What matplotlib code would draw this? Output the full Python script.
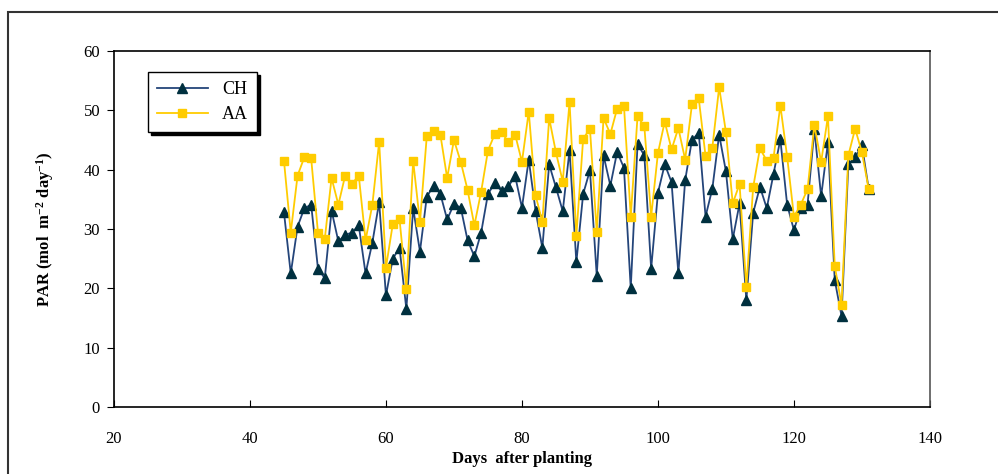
import numpy as np
import matplotlib
matplotlib.use('Agg')
import matplotlib.pyplot as plt
from matplotlib.patches import Rectangle

# daily PAR, days 45..131 after planting
days = np.arange(45, 132)
ch = [32.8, 22.5, 30.4, 33.5, 34.1, 23.3, 21.7, 33.1, 27.9, 29.0,
      29.4, 30.6, 22.5, 27.7, 34.5, 18.8, 25.0, 26.8, 16.5, 33.5,
      26.2, 35.4, 37.3, 35.9, 31.6, 34.2, 33.6, 28.1, 25.4, 29.4,
      35.9, 37.7, 36.4, 37.2, 38.9, 33.6, 41.7, 33.1, 26.8, 40.9,
      37.0, 33.0, 43.3, 24.4, 35.9, 39.9, 22.1, 42.4, 37.3, 43.0,
      40.3, 20.0, 44.3, 42.4, 23.3, 36.1, 40.9, 37.9, 22.5, 38.2,
      45.0, 46.2, 32.1, 36.8, 45.9, 39.7, 28.3, 34.3, 18.0, 32.7,
      37.1, 33.5, 39.3, 45.1, 34.1, 29.8, 33.6, 34.1, 46.8, 35.5,
      44.6, 21.4, 15.3, 40.9, 42.1, 44.1, 36.7]
aa = [41.5, 29.4, 39.0, 42.1, 41.9, 29.4, 28.3, 38.6, 34.1, 39.0,
      37.6, 39.0, 28.1, 34.1, 44.7, 23.5, 30.8, 31.6, 19.9, 41.5,
      31.1, 45.6, 46.6, 45.9, 38.6, 45.0, 41.3, 36.6, 30.6, 36.3,
      43.2, 46.0, 46.4, 44.6, 45.9, 41.3, 49.8, 35.7, 31.2, 48.7,
      42.9, 38.0, 51.4, 28.9, 45.2, 46.9, 29.5, 48.7, 46.0, 50.3,
      50.8, 32.1, 49.0, 47.3, 32.1, 42.8, 48.1, 43.4, 47.0, 41.7,
      51.0, 52.0, 42.3, 43.7, 53.9, 46.3, 34.3, 37.6, 20.2, 37.0,
      43.6, 41.5, 42.0, 50.8, 42.2, 32.1, 34.1, 36.7, 47.5, 41.3,
      49.0, 23.8, 17.2, 42.4, 46.9, 42.9, 36.7]

plt.rcParams['font.family'] = 'Liberation Serif'
plt.rcParams['mathtext.default'] = 'regular'

fig = plt.figure(figsize=(9.98, 4.74), dpi=100)
ax = fig.add_axes([0.1142, 0.1414, 0.8176, 0.751])

ax.plot(days, ch, color='#24457a', lw=1.3, marker='^', ms=6.5,
        mfc='#00303f', mec='#00303f', label='CH', zorder=3)
ax.plot(days, aa, color='#ffcc00', lw=1.3, marker='s', ms=5.5,
        mfc='#ffcc00', mec='#ffcc00', label='AA', zorder=4)

ax.set_xlim(20, 140)
ax.set_ylim(0, 60)
ax.set_xticks(range(20, 141, 20))
ax.set_yticks(range(0, 61, 10))
ax.tick_params(axis='x', direction='in', length=5, pad=17, labelsize=12)
ax.tick_params(axis='y', direction='out', length=5, pad=5, labelsize=12)
for s in ax.spines.values():
    s.set_linewidth(1.2)
ax.spines['right'].set_color('#555555')

ax.set_ylabel('PAR (mol  m$^{-2}$ day$^{-1}$)', fontsize=12, fontweight='bold', labelpad=20)
ax.set_xlabel('Days  after planting', fontsize=12, fontweight='bold', labelpad=3)

leg = ax.legend(loc='upper left', bbox_to_anchor=(0.0417, 0.941), borderaxespad=0,
                fancybox=False, edgecolor='black', framealpha=1, fontsize=13,
                shadow={'color': 'black', 'alpha': 1}, handlelength=2.8,
                borderpad=0.5, labelspacing=0.45)
leg.get_frame().set_linewidth(1.0)

# frame around the whole chart
fig.patches.append(Rectangle((8 / 998, -0.05), 1.1, 0.05 + 1 - 12 / 474,
                             transform=fig.transFigure, fill=False,
                             edgecolor='#333333', lw=1.5))

fig.savefig('out.png', dpi=100)
